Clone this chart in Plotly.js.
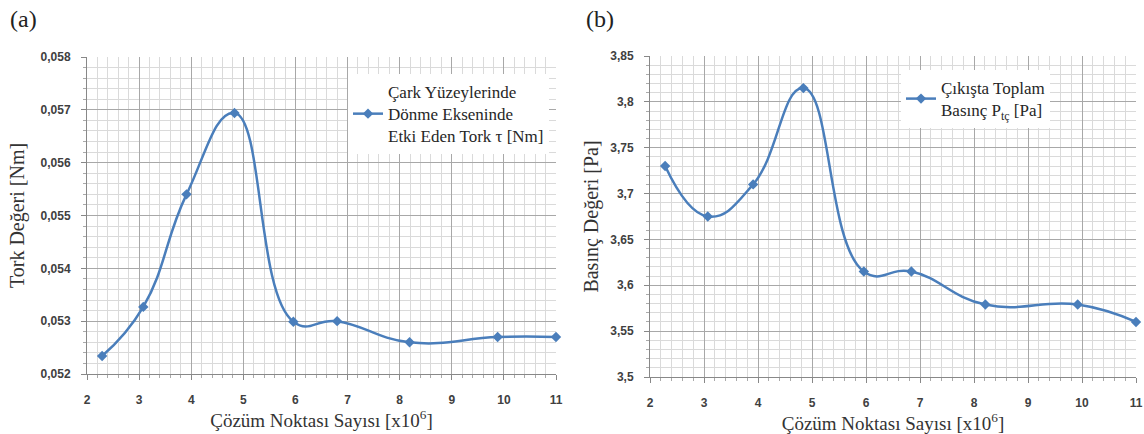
<!DOCTYPE html>
<html>
<head>
<meta charset="utf-8">
<script src="https://cdn.plot.ly/plotly-3.0.1.min.js"></script>
<style>html,body{margin:0;padding:0;background:#fff;}#chart{width:1144px;height:434px;}</style>
</head>
<body>
<div id="chart"></div>
<script>
// Data
const xTorque = [2.29, 3.08, 3.91, 4.83, 5.96, 6.80, 8.19, 9.88, 11.0];
const yTorque = [0.05234, 0.05327, 0.05540, 0.05694, 0.05299, 0.05300, 0.05260, 0.05270, 0.05270];
const xPress = [2.28, 3.07, 3.91, 4.84, 5.96, 6.84, 8.21, 9.92, 11.0];
const yPress = [3.730, 3.675, 3.710, 3.815, 3.615, 3.615, 3.579, 3.579, 3.560];

const xTickVals = [2, 3, 4, 5, 6, 7, 8, 9, 10, 11];
const xTickText = ['2', '3', '4', '5', '6', '7', '8', '9', '10', '11'];
const yTorqueTickVals = [0.052, 0.053, 0.054, 0.055, 0.056, 0.057, 0.058];
const yTorqueTickText = ['0,052', '0,053', '0,054', '0,055', '0,056', '0,057', '0,058'];
const yPressTickVals = [3.5, 3.55, 3.6, 3.65, 3.7, 3.75, 3.8, 3.85];
const yPressTickText = ['3,5', '3,55', '3,6', '3,65', '3,7', '3,75', '3,8', '3,85'];

const nameTorque = 'Çark Yüzeylerinde<br>Dönme Ekseninde<br>Etki Eden Tork τ [Nm]';
const namePress = 'Çıkışta Toplam<br>Basınç P<sub>tç</sub> [Pa]';
const xTitle = 'Çözüm Noktası Sayısı [x10<sup>6</sup>]';

const blue = '#4a7ebb';
const serif = 'Liberation Serif';
const sans = 'Liberation Sans';

const traces = [
  {x: xTorque, y: yTorque, name: nameTorque, type: 'scatter', mode: 'lines+markers',
   line: {color: blue, width: 2.5, shape: 'spline', smoothing: 1.3},
   marker: {symbol: 'diamond', size: 8, color: blue},
   xaxis: 'x', yaxis: 'y', legend: 'legend', cliponaxis: false},
  {x: xPress, y: yPress, name: namePress, type: 'scatter', mode: 'lines+markers',
   line: {color: blue, width: 2.5, shape: 'spline', smoothing: 1.3},
   marker: {symbol: 'diamond', size: 8, color: blue},
   xaxis: 'x2', yaxis: 'y2', legend: 'legend2', cliponaxis: false}
];

function xAxis(domain, anchor) {
  return {
    domain: domain, anchor: anchor, range: [2, 11],
    tickmode: 'array', tickvals: xTickVals, ticktext: xTickText,
    tickfont: {family: sans, size: 12, color: '#404040', weight: 'bold'},
    ticks: 'outside', ticklen: 5, tickcolor: '#888', ticklabelstandoff: 10,
    showgrid: true, gridcolor: '#a8a8a8', gridwidth: 1,
    minor: {dtick: 0.2, tick0: 2, showgrid: true, gridcolor: '#dadada', gridwidth: 1, ticks: 'outside', ticklen: 3, tickcolor: '#aaa'},
    showline: true, linecolor: '#888', linewidth: 1, zeroline: false,
    title: {text: xTitle, font: {family: serif, size: 19, color: '#333'}, standoff: 5},
    automargin: false
  };
}
function yAxis(domain, anchor, range, vals, text, dt, title, standoff) {
  return {
    domain: domain, anchor: anchor, range: range,
    tickmode: 'array', tickvals: vals, ticktext: text,
    tickfont: {family: sans, size: 12, color: '#404040', weight: 'bold'},
    ticks: 'outside', ticklen: 5, tickcolor: '#888', ticklabelstandoff: 8,
    showgrid: true, gridcolor: '#a8a8a8', gridwidth: 1,
    minor: {dtick: dt, tick0: range[0], showgrid: true, gridcolor: '#dadada', gridwidth: 1, ticks: 'outside', ticklen: 3, tickcolor: '#aaa'},
    showline: true, linecolor: '#888', linewidth: 1, zeroline: false,
    title: {text: title, font: {family: serif, size: 20, color: '#333'}, standoff: standoff},
    automargin: false
  };
}

const legendFont = {family: serif, size: 17, color: '#262626'};

const layout = {
  width: 1144, height: 434,
  margin: {l: 0, r: 0, t: 0, b: 0},
  paper_bgcolor: '#fff', plot_bgcolor: '#fff',
  showlegend: true,
  xaxis: xAxis([87/1144, 556/1144], 'y'),
  yaxis: yAxis([1 - 374/434, 1 - 57/434], 'x', [0.052, 0.058], yTorqueTickVals, yTorqueTickText, 0.0002, 'Tork Değeri [Nm]', 10),
  xaxis2: xAxis([650/1144, 1136/1144], 'y2'),
  yaxis2: yAxis([1 - 377/434, 1 - 56/434], 'x2', [3.5, 3.85], yPressTickVals, yPressTickText, 0.01, 'Basınç Değeri [Pa]', 6),
  legend: {x: 348/1144, y: 1 - 74/434, xanchor: 'left', yanchor: 'top',
    bgcolor: '#fff', borderwidth: 0, font: legendFont, itemwidth: 30, tracegroupgap: 0},
  legend2: {x: 901/1144, y: 1 - 70/434, xanchor: 'left', yanchor: 'top',
    bgcolor: '#fff', borderwidth: 0, font: legendFont, itemwidth: 30, tracegroupgap: 0},
  annotations: [
    {text: '(a)', xref: 'paper', yref: 'paper', x: 8/1144, y: 1 - 4/434, xanchor: 'left', yanchor: 'top',
     showarrow: false, font: {family: serif, size: 24, color: '#222'}},
    {text: '(b)', xref: 'paper', yref: 'paper', x: 584/1144, y: 1 - 4/434, xanchor: 'left', yanchor: 'top',
     showarrow: false, font: {family: serif, size: 24, color: '#222'}}
  ]
};

Plotly.newPlot('chart', traces, layout, {displayModeBar: false, staticPlot: true});
</script>
</body>
</html>
